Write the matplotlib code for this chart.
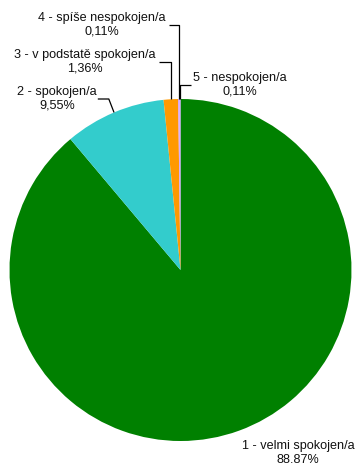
import numpy as np
import matplotlib
matplotlib.use("Agg")
import matplotlib.pyplot as plt

plt.rcParams['font.family'] = ['Liberation Sans', 'DejaVu Sans']

# spokojenost - podíl odpovědí
categories = ['1 - velmi spokojen/a', '2 - spokojen/a', '3 - v podstatě spokojen/a',
              '4 - spíše nespokojen/a', '5 - nespokojen/a']
shares = [88.87, 9.55, 1.36, 0.11, 0.11]
share_labels = ['88.87%', '9,55%', '1,36%', '0,11%', '0,11%']
colors = ['#008000', '#33CCCC', '#FF9900', '#CC99FF', '#CC99FF']

W, H = 355, 466
cx, cy, r = 180.5, H - 270, 171

fig = plt.figure(figsize=(W / 100, H / 100), dpi=100)
ax = fig.add_axes([0, 0, 1, 1])

wedges, _ = ax.pie(shares, colors=colors, startangle=90, counterclock=False,
                   center=(cx, cy), radius=r, frame=True,
                   wedgeprops=dict(linewidth=0))
ax.set_xlim(0, W)
ax.set_ylim(0, H)
ax.set_aspect('equal')
ax.axis('off')

# label block centres (x, y from top)
label_pos = [(298, 453), (57, 99), (85, 62), (102, 25), (240, 85)]

texts = []
for i in range(len(shares)):
    lx, ly = label_pos[i]
    t = ax.text(lx, H - ly, categories[i] + '\n' + share_labels[i], ha='center',
                va='center', multialignment='center', fontsize=9.1,
                color='#111111', linespacing=1.2)
    texts.append(t)

fig.canvas.draw()
renderer = fig.canvas.get_renderer()

# leader lines: from the label edge to the slice edge
for i, w in enumerate(wedges):
    if i == 0:
        continue
    bb = texts[i].get_window_extent(renderer)
    ly = H - label_pos[i][1]
    mid = np.deg2rad((w.theta1 + w.theta2) / 2)
    px = cx + r * np.cos(mid)
    py = cy + r * np.sin(mid)
    if i == 1:
        xs = [bb.x1 + 1, bb.x1 + 12, px]
        ys = [ly, ly, py]
    elif bb.x1 < px:
        xs = [bb.x1 + 3, px, px]
        ys = [ly, ly, py]
    else:
        xs = [bb.x0 - 2, px, px]
        ys = [ly, ly, py]
    ax.plot(xs, ys, color='black', linewidth=0.9, solid_capstyle='butt')

fig.savefig('out.png', dpi=100)
